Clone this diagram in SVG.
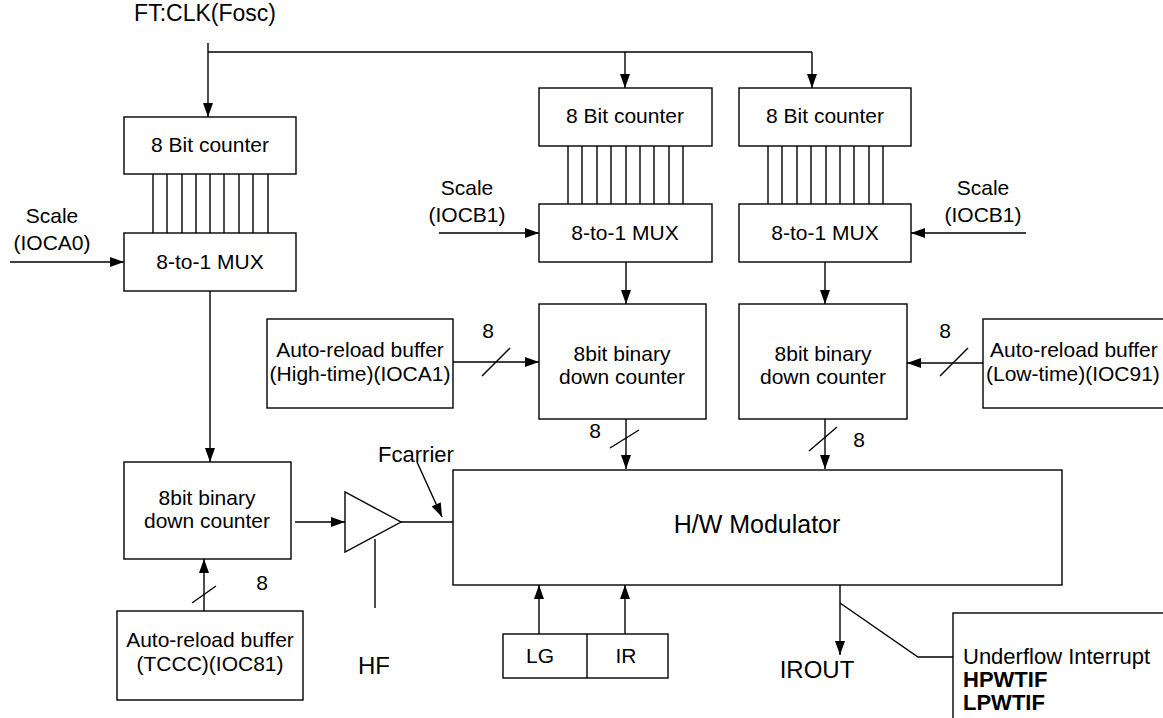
<svg xmlns="http://www.w3.org/2000/svg" width="1163" height="718" viewBox="0 0 1163 718">
<style>
text{font-family:"Liberation Sans",Arial,sans-serif;font-size:21px;fill:#000}
.c{text-anchor:middle}
.b{fill:#fff;stroke:#000;stroke-width:1.4}
.l{fill:none;stroke:#000;stroke-width:1.4}
.a{fill:none;stroke:#000;stroke-width:1.4;marker-end:url(#ah)}
.big{font-size:24px}
.bold{font-weight:bold}
</style>
<defs>
<marker id="ah" viewBox="0 0 14 10" refX="14" refY="5" markerWidth="14" markerHeight="10" markerUnits="userSpaceOnUse" orient="auto">
<path d="M0,0 L14,5 L0,10 z" fill="#000"/>
</marker>
</defs>

<text x="205" y="21" class="c" style="font-size:23px">FT:CLK(Fosc)</text>

<g id="connectors">
<line class="l" x1="208" y1="52" x2="812" y2="52"/>
<line class="a" x1="208" y1="43" x2="208" y2="117"/>
<line class="a" x1="625" y1="52" x2="625" y2="88"/>
<line class="a" x1="812" y1="52" x2="812" y2="88"/>
<g class="l">
<line class="l" x1="153" y1="174" x2="153" y2="233"/><line class="l" x1="167" y1="174" x2="167" y2="233"/><line class="l" x1="182" y1="174" x2="182" y2="233"/><line class="l" x1="196" y1="174" x2="196" y2="233"/><line class="l" x1="210" y1="174" x2="210" y2="233"/><line class="l" x1="224" y1="174" x2="224" y2="233"/><line class="l" x1="239" y1="174" x2="239" y2="233"/><line class="l" x1="253" y1="174" x2="253" y2="233"/><line class="l" x1="268" y1="174" x2="268" y2="233"/>
<line class="l" x1="568" y1="146" x2="568" y2="204"/><line class="l" x1="582" y1="146" x2="582" y2="204"/><line class="l" x1="597" y1="146" x2="597" y2="204"/><line class="l" x1="611" y1="146" x2="611" y2="204"/><line class="l" x1="626" y1="146" x2="626" y2="204"/><line class="l" x1="640" y1="146" x2="640" y2="204"/><line class="l" x1="654" y1="146" x2="654" y2="204"/><line class="l" x1="669" y1="146" x2="669" y2="204"/><line class="l" x1="683" y1="146" x2="683" y2="204"/>
<line class="l" x1="768" y1="146" x2="768" y2="204"/><line class="l" x1="782" y1="146" x2="782" y2="204"/><line class="l" x1="797" y1="146" x2="797" y2="204"/><line class="l" x1="811" y1="146" x2="811" y2="204"/><line class="l" x1="826" y1="146" x2="826" y2="204"/><line class="l" x1="840" y1="146" x2="840" y2="204"/><line class="l" x1="854" y1="146" x2="854" y2="204"/><line class="l" x1="869" y1="146" x2="869" y2="204"/><line class="l" x1="883" y1="146" x2="883" y2="204"/>
</g>
<line class="a" x1="10" y1="262" x2="124" y2="262"/>
<line class="a" x1="439" y1="233" x2="539" y2="233"/>
<line class="a" x1="1026" y1="233" x2="911" y2="233"/>
<line class="a" x1="210" y1="291" x2="210" y2="462"/>
<line class="a" x1="626" y1="262" x2="626" y2="304"/>
<line class="a" x1="825" y1="262" x2="825" y2="304"/>
<line class="a" x1="453" y1="362" x2="539" y2="362"/>
<line class="l" x1="482" y1="376" x2="510" y2="348"/>
<line class="a" x1="983" y1="363" x2="907" y2="363"/>
<line class="l" x1="940" y1="376" x2="968" y2="348"/>
<line class="a" x1="626" y1="419" x2="626" y2="469"/>
<line class="l" x1="610" y1="448" x2="639" y2="430"/>
<line class="a" x1="825" y1="419" x2="825" y2="469"/>
<line class="l" x1="809" y1="451" x2="837" y2="427"/>
<line class="a" x1="204" y1="611" x2="204" y2="559"/>
<line class="l" x1="192" y1="603" x2="216" y2="586"/>
<line class="a" x1="295" y1="522" x2="345" y2="522"/>
<line class="l" x1="401" y1="522" x2="457" y2="522"/>
<line class="a" x1="417" y1="462" x2="442" y2="517"/>
<line class="l" x1="375" y1="539" x2="375" y2="608"/>
<line class="a" x1="539" y1="634" x2="539" y2="585"/>
<line class="a" x1="625" y1="634" x2="625" y2="585"/>
<line class="a" x1="840" y1="585" x2="840" y2="655"/>
<polyline class="l" points="840,603 918,657 953,657"/>
</g>

<text x="52" y="223" class="c">Scale</text>
<text x="52" y="250" class="c">(IOCA0)</text>
<text x="467" y="195" class="c">Scale</text>
<text x="467" y="222" class="c">(IOCB1)</text>
<text x="983" y="195" class="c">Scale</text>
<text x="983" y="222" class="c">(IOCB1)</text>
<text x="488" y="338" class="c">8</text>
<text x="945" y="338" class="c">8</text>
<text x="595" y="438" class="c">8</text>
<text x="859" y="447" class="c">8</text>
<text x="262" y="590" class="c">8</text>
<text x="416" y="462" class="c" style="font-size:22px">Fcarrier</text>
<text x="374" y="674" class="c big">HF</text>
<text x="817" y="678" class="c big">IROUT</text>

<g id="cnt1"><rect class="b" x="124" y="117" width="172" height="57"/><text x="210" y="152" class="c">8 Bit counter</text></g>
<g id="mux1"><rect class="b" x="124" y="233" width="172" height="58"/><text x="210" y="269" class="c">8-to-1 MUX</text></g>
<g id="cnt2"><rect class="b" x="539" y="88" width="173" height="58"/><text x="625" y="123" class="c">8 Bit counter</text></g>
<g id="mux2"><rect class="b" x="539" y="204" width="173" height="58"/><text x="625" y="240" class="c">8-to-1 MUX</text></g>
<g id="cnt3"><rect class="b" x="739" y="88" width="172" height="58"/><text x="825" y="123" class="c">8 Bit counter</text></g>
<g id="mux3"><rect class="b" x="739" y="204" width="172" height="58"/><text x="825" y="240" class="c">8-to-1 MUX</text></g>
<g id="bufH"><rect class="b" x="267" y="319" width="186" height="89"/><text x="360" y="357" class="c">Auto-reload buffer</text><text x="360" y="381" class="c">(High-time)(IOCA1)</text></g>
<g id="dcH"><rect class="b" x="539" y="304" width="167" height="115"/><text x="622" y="361" class="c">8bit binary</text><text x="622" y="384" class="c">down counter</text></g>
<g id="dcL"><rect class="b" x="739" y="304" width="168" height="115"/><text x="823" y="361" class="c">8bit binary</text><text x="823" y="384" class="c">down counter</text></g>
<g id="bufL"><rect class="b" x="983" y="319" width="195" height="89"/><text x="990" y="357">Auto-reload buffer</text><text x="986" y="381">(Low-time)(IOC91)</text></g>
<g id="dcC"><rect class="b" x="124" y="462" width="167" height="97"/><text x="207" y="505" class="c">8bit binary</text><text x="207" y="528" class="c">down counter</text></g>
<g id="bufC"><rect class="b" x="117" y="611" width="186" height="89"/><text x="210" y="647" class="c">Auto-reload buffer</text><text x="210" y="671" class="c">(TCCC)(IOC81)</text></g>
<g id="amp"><polygon class="b" points="345,492 345,552 401,522"/></g>
<g id="mod"><rect class="b" x="453" y="470" width="609" height="115"/><text x="757" y="533" class="c" style="font-size:25px">H/W Modulator</text></g>
<g id="lgir"><rect class="b" x="503" y="634" width="165" height="44"/><line class="l" x1="587" y1="634" x2="587" y2="678"/><text x="540" y="663" class="c">LG</text><text x="626" y="663" class="c">IR</text></g>
<g id="intr"><rect class="b" x="953" y="613" width="220" height="120"/><text x="963" y="664" style="font-size:22px">Underflow Interrupt</text><text x="963" y="687" class="bold" style="font-size:22px">HPWTIF</text><text x="963" y="710" class="bold" style="font-size:22px">LPWTIF</text></g>
</svg>
